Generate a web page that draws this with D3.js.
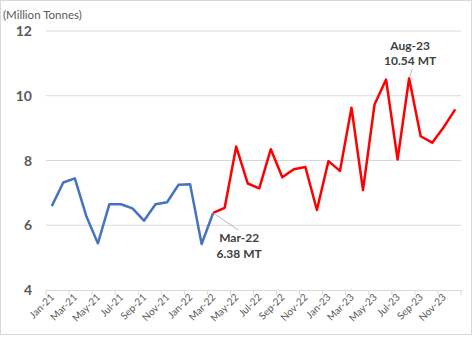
<!DOCTYPE html>
<html><head><meta charset="utf-8">
<script src="https://cdn.jsdelivr.net/npm/d3@7"></script>
<style>
html,body{margin:0;padding:0;background:#fff;}
svg{display:block;font-family:Lato,"Open Sans",sans-serif;}
</style></head>
<body>
<svg id="c" width="473" height="338"></svg>
<script>
const months = ["Jan-21","Feb-21","Mar-21","Apr-21","May-21","Jun-21","Jul-21","Aug-21","Sep-21","Oct-21","Nov-21","Dec-21",
"Jan-22","Feb-22","Mar-22","Apr-22","May-22","Jun-22","Jul-22","Aug-22","Sep-22","Oct-22","Nov-22","Dec-22",
"Jan-23","Feb-23","Mar-23","Apr-23","May-23","Jun-23","Jul-23","Aug-23","Sep-23","Oct-23","Nov-23","Dec-23"];
const values = [6.59,7.32,7.45,6.28,5.44,6.65,6.65,6.52,6.14,6.65,6.71,7.25,
7.27,5.42,6.38,6.54,8.43,7.29,7.14,8.35,7.48,7.73,7.80,6.47,
7.98,7.68,9.63,7.09,9.73,10.50,8.03,10.54,8.75,8.55,9.03,9.58];
const splitIndex = 14; // Mar-22: blue before, red from here
const yTicks = [4,6,8,10,12];
const unitLabel = "(Million Tonnes)";
const annotations = [
  {i:14, lines:["Mar-22","6.38 MT"]},
  {i:31, lines:["Aug-23","10.54 MT"]}
];

const svg = d3.select("#c");
svg.append("rect").attr("x",0.5).attr("y",0.5).attr("width",471).attr("height",334)
  .attr("fill","#fff").attr("stroke","#d9d9d9");

const x = d3.scaleBand().domain(months).range([46,461]);
const y = d3.scaleLinear().domain([4,12]).range([290,31]);
const cx = m => x(m) + x.bandwidth()/2;

// gridlines
svg.append("g").selectAll("line").data(yTicks.filter(t=>t>4)).join("line")
  .attr("x1",46).attr("x2",461).attr("y1",d=>y(d)).attr("y2",d=>y(d))
  .attr("stroke","#d9d9d9").attr("stroke-width",1);

// y axis labels
svg.append("g").selectAll("text").data(yTicks).join("text")
  .attr("x",32).attr("y",d=>y(d)).attr("dy","0.36em").attr("text-anchor","end")
  .attr("font-size",14).attr("font-weight","bold").attr("fill","#595959").text(d=>d);

svg.append("text").attr("x",3).attr("y",19).attr("font-size",11.5).attr("fill","#595959").text(unitLabel);

// x axis
svg.append("line").attr("x1",46).attr("x2",461).attr("y1",290.5).attr("y2",290.5).attr("stroke","#d9d9d9");
const tickIdx = d3.range(0,37,2);
svg.append("g").selectAll("line").data(tickIdx).join("line")
  .attr("x1",i=>46+i*x.step()).attr("x2",i=>46+i*x.step())
  .attr("y1",290).attr("y2",295).attr("stroke","#d9d9d9");
svg.append("g").selectAll("text").data(months.filter((m,i)=>i%2===0)).join("text")
  .attr("transform",m=>`translate(${cx(m)+3},${298}) rotate(-45)`)
  .attr("text-anchor","end").attr("font-size",10).attr("fill","#595959").text(m=>m);

// lines
const line = d3.line().x(d=>cx(d.m)).y(d=>y(d.v));
const data = months.map((m,i)=>({m,v:values[i]}));
svg.append("path").datum(data.slice(0,splitIndex+1)).attr("d",line)
  .attr("fill","none").attr("stroke","#4472C4").attr("stroke-width",2.5).attr("stroke-linejoin","round");
svg.append("path").datum(data.slice(splitIndex)).attr("d",line)
  .attr("fill","none").attr("stroke","#FF0000").attr("stroke-width",2.5).attr("stroke-linejoin","round");

// annotations
const a1 = annotations[0], a2 = annotations[1];
const p1 = {x:cx(months[a1.i]), y:y(values[a1.i])};
svg.append("line").attr("x1",p1.x).attr("y1",p1.y).attr("x2",p1.x+25).attr("y2",p1.y+17)
  .attr("stroke","#a6a6a6").attr("stroke-width",0.8);
svg.append("g").selectAll("text").data(a1.lines).join("text")
  .attr("x",p1.x+26).attr("y",(d,k)=>242+k*16).attr("text-anchor","middle")
  .attr("font-size",12).attr("font-weight","bold").attr("fill","#404040").text(d=>d);
const p2 = {x:cx(months[a2.i]), y:y(values[a2.i])};
svg.append("line").attr("x1",p2.x).attr("y1",p2.y).attr("x2",p2.x+3).attr("y2",p2.y-9)
  .attr("stroke","#a6a6a6").attr("stroke-width",0.8);
svg.append("g").selectAll("text").data(a2.lines).join("text")
  .attr("x",p2.x+1).attr("y",(d,k)=>50+k*15).attr("text-anchor","middle")
  .attr("font-size",12).attr("font-weight","bold").attr("fill","#404040").text(d=>d);
</script>
</body></html>
